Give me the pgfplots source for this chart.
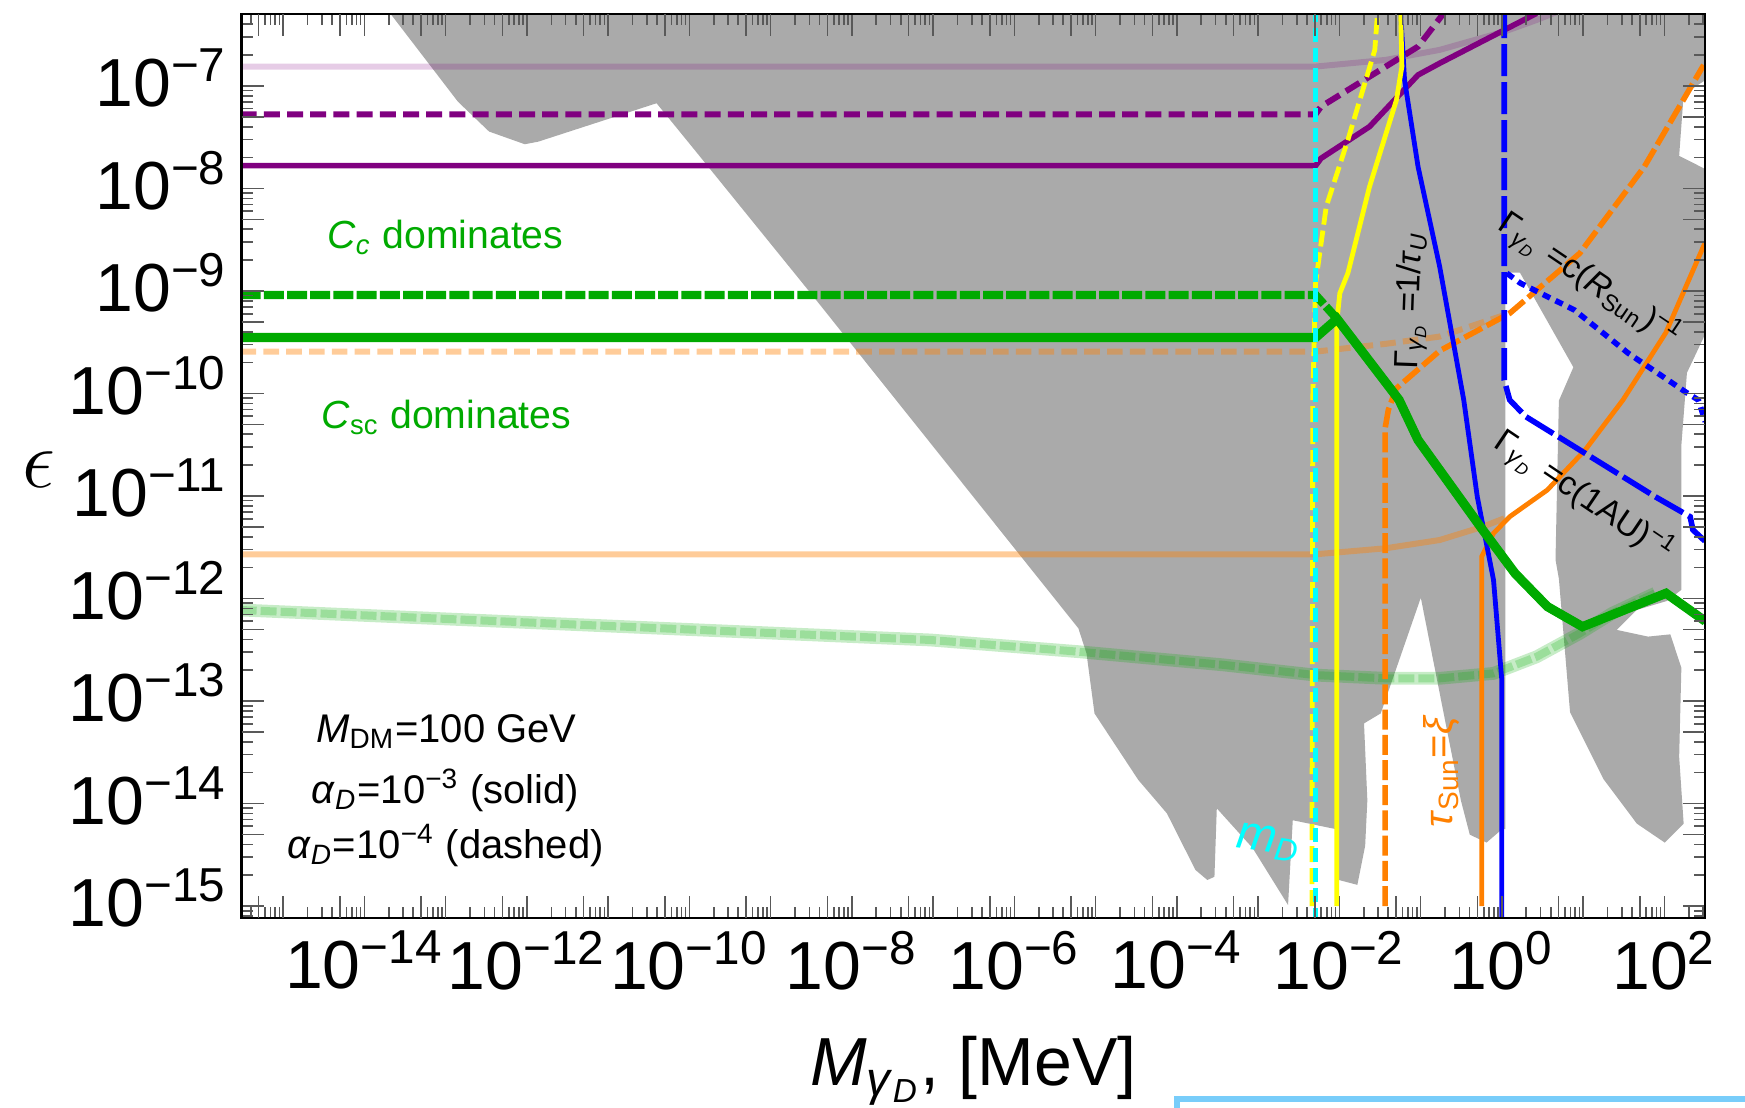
\documentclass[border=0pt]{standalone}
\usepackage{fontspec}
\setmainfont{Liberation Sans}
\usepackage{pgfplots}
\pgfplotsset{compat=1.18}
\definecolor{mpurple}{rgb}{0.5,0,0.5}
\definecolor{mgreen}{rgb}{0,0.667,0}
\definecolor{morange}{rgb}{1,0.5,0}
\definecolor{mgray}{RGB}{170,170,170}
\definecolor{mcyan}{RGB}{0,255,255}
\definecolor{myellow}{RGB}{255,255,0}
\definecolor{mblue}{RGB}{0,0,255}
\definecolor{lblue}{RGB}{120,205,250}
\gdef\minorx{}
\foreach \e in {-16,...,2}{\foreach \m in {2,3,4,6,7,8,9}{\xdef\minorx{\minorx\m e\e,}}}
\gdef\minory{}
\foreach \e in {-16,...,-7}{\foreach \m in {2,3,4,6,7,8,9}{\xdef\minory{\minory\m e\e,}}}
\newcommand{\tl}{\fontsize{17}{20}\selectfont}
\begin{document}
\begin{tikzpicture}
\useasboundingbox (-60.425pt,-47.25pt) rectangle (375.825pt,229.5pt);
\begin{axis}[
 scale only axis, width=365.8pt, height=226pt,
 xmode=log, ymode=log,
 xmin=3.09e-16, xmax=316, ymin=7.64e-16, ymax=5.03e-7,
 axis on top,
 axis line style={line width=0.7pt},
 tick align=inside,
 major tick length=5.6pt, minor tick length=2.8pt,
 tick style={black!65, line width=0.4pt},
 xtick={1e-14,1e-12,1e-10,1e-8,1e-6,1e-4,1e-2,1,100},
 xticklabels={10\textsuperscript{−14},10\textsuperscript{−12},10\textsuperscript{−10},10\textsuperscript{−8},10\textsuperscript{−6},10\textsuperscript{−4},10\textsuperscript{−2},10\textsuperscript{0},10\textsuperscript{2}},
 extra x ticks={1e-15,1e-13,1e-11,1e-9,1e-7,1e-5,1e-3,1e-1,10,5e-16,5e-15,5e-14,5e-13,5e-12,5e-11,5e-10,5e-9,5e-8,5e-7,5e-6,5e-5,5e-4,5e-3,5e-2,5e-1,5,50},
 extra x tick labels={},
 minor xtick/.expanded={\minorx 1e5},
 ytick={1e-15,1e-14,1e-13,1e-12,1e-11,1e-10,1e-9,1e-8,1e-7},
 yticklabels={10\textsuperscript{−15},10\textsuperscript{−14},10\textsuperscript{−13},10\textsuperscript{−12},10\textsuperscript{−11},10\textsuperscript{−10},10\textsuperscript{−9},10\textsuperscript{−8},10\textsuperscript{−7}},
 extra y ticks={5e-15,5e-14,5e-13,5e-12,5e-11,5e-10,5e-9,5e-8},
 extra y tick labels={},
 minor ytick/.expanded={\minory 1e-3},
 xticklabel style={font=\tl, inner sep=0pt, yshift=-3pt},
 yticklabel style={font=\tl, inner sep=0pt, xshift=-3.4pt, yshift=2pt},
 xlabel={\textit{M}\textsubscript{\textit{γ}\textsubscript{\textit{D}}}, [MeV]},
 xlabel style={font=\tl, at={(axis description cs:0.5,-0.1847)}, anchor=base},
 ylabel={$\epsilon$},
 ylabel style={font=\fontsize{22}{24}\selectfont, rotate=-90, at={(axis description cs:-0.1385,0.4956)}, anchor=center},
]
% excluded region
\addplot[fill=mgray, draw=none] coordinates {
(2.11e-14,5.03e-7) (1.416e-13,7.03e-8) (3.43e-13,3.59e-8) (9.44e-13,2.70e-8) (1.379e-12,2.86e-8)
(3.95e-11,6.78e-8) (1.161e-10,2.375e-8) (3.126e-9,9.48e-10) (6.14e-6,5.12e-13) (7.73e-6,2.92e-13)
(9.70e-6,7.57e-14) (3.365e-5,1.694e-14) (7.55e-5,8.02e-15) (1.694e-4,2.25e-15) (2.375e-4,1.795e-15)
(2.904e-4,1.93e-15) (3.105e-4,8.97e-15) (8.57e-4,3.68e-15) (2.339e-3,1.023e-15) (2.673e-3,6.87e-15)
(9.14e-3,5.62e-15) (9.14e-3,1.824e-15) (1.667e-2,1.61e-15) (2.08e-2,3.86e-15) (2.213e-2,1.076e-14)
(2.014e-2,6.05e-14) (3.233e-2,7.57e-14) (0.1007,1.019e-12) (0.3133,1.076e-14) (0.4036,4.97e-15)
(0.6486,4.16e-15) (1.008,5.62e-15) (1.109,5.62e-15) (1.109,1.51e-9) (1.671,1.51e-9)
(7.60,1.803e-10) (5.04,8.51e-11) (4.58,2.39e-12) (5.04,1.56e-12) (6.92,7.76e-14)
(17.82,1.734e-14) (45.9,6.37e-15) (101.2,4.16e-15) (173,6.37e-15) (152.4,2.86e-14)
(162.2,2.11e-13) (118.6,4.47e-13) (63.0,4.25e-13) (26.0,4.94e-13) (45.9,7.74e-13)
(107.6,9.46e-13) (162.2,1.215e-12) (162.2,3.13e-11) (190,1.592e-10) (320,3.82e-10)
(320,1.545e-8) (152.4,2.08e-8) (173,8.25e-8) (320,1.14e-7) (320,5.03e-7)
} -- cycle;
% faded curves
\addplot[mgreen, opacity=0.22, line width=3.2pt] coordinates {
(3e-16,7.73e-13) (9.29e-8,3.94e-13) (6.14e-6,3.03e-13) (3.80e-4,2.25e-13) (5.10e-3,1.79e-13)
(3.72e-2,1.665e-13) (0.1718,1.665e-13) (0.791,1.86e-13) (2.68,2.70e-13) (9.1,4.57e-13)
(22.8,7.16e-13) (77.3,1.125e-12)};
\addplot[mgreen, opacity=0.22, line width=2pt, dash pattern=on 4pt off 1pt] coordinates {
(3e-16,7.73e-13) (9.29e-8,3.94e-13) (6.14e-6,3.03e-13) (3.80e-4,2.25e-13) (5.10e-3,1.79e-13)
(3.72e-2,1.665e-13) (0.1718,1.665e-13) (0.791,1.86e-13) (2.68,2.70e-13) (9.1,4.57e-13)
(22.8,7.16e-13) (77.3,1.125e-12)};
\addplot[morange, opacity=0.4, line width=1.5pt] coordinates {
(3e-16,2.70e-12) (5.1e-3,2.70e-12) (3.72e-2,3.09e-12) (0.1718,3.72e-12) (0.582,5.01e-12) (1.072,6.05e-12)};
\addplot[morange, opacity=0.4, line width=1.5pt, dash pattern=on 3.9pt off 1.8pt] coordinates {
(3e-16,2.56e-10) (5.1e-3,2.56e-10) (3.72e-2,3.05e-10) (0.1718,3.59e-10) (1.25,6.05e-10)};
\addplot[mpurple, opacity=0.2, line width=1.5pt] coordinates {
(3e-16,1.545e-7) (5.1e-3,1.545e-7) (3.72e-2,1.795e-7) (0.1718,2.248e-7) (1.072,3.39e-7) (2.68,4.40e-7) (5.04,5.37e-7)};
% purple
\addplot[mpurple, line width=1.5pt, dash pattern=on 4pt off 1.8pt] coordinates {
(3e-16,5.29e-8) (5.1e-3,5.29e-8) (5.96e-3,6.29e-8) (2.355e-2,1.233e-7) (9.31e-2,2.42e-7) (0.1995,5.31e-7)};
\addplot[mpurple, line width=1.4pt] coordinates {
(3e-16,1.668e-8) (5.1e-3,1.668e-8) (5.96e-3,1.968e-8) (2.355e-2,4.01e-8) (9.31e-2,1.28e-7) (0.1718,1.664e-7) (2.68,5.11e-7)};
% orange
\addplot[morange, line width=1.2pt] coordinates {
(0.566,1e-15) (0.566,2.57e-12) (0.791,4.33e-12) (1.25,6.28e-12) (3.64,1.146e-11) (10.6,2.81e-11)
(31.0,8.65e-11) (104.5,3.92e-10) (320,3.0e-9)};
\addplot[morange, line width=1.4pt, dash pattern=on 5pt off 1.3pt] coordinates {
(3.66e-2,1e-15) (3.66e-2,4.56e-11) (4.01e-2,6.9e-11) (5.02e-2,1.12e-10) (0.172,2.61e-10) (1.25,6.05e-10)
(9.1,2.33e-9) (56.9,1.633e-8) (305,1.6e-7)};
% blue
\addplot[mblue, line width=1.2pt] coordinates {
(1.0,7e-16) (1.0,1.60e-13) (0.791,1.514e-12) (0.499,9.84e-12) (0.340,8.65e-11) (0.1718,1.73e-9)
(9.31e-2,1.633e-8) (6.35e-2,1.144e-7) (5.70e-2,5.11e-7)};
\addplot[mblue, line width=1.4pt, dash pattern=on 8pt off 1.5pt] coordinates {
(1.072,6e-7) (1.072,1.352e-10) (1.25,8.65e-11) (1.977,5.94e-11) (7.82,3.03e-11) (77.3,9.84e-12)
(208,6.28e-12) (225,4.67e-12) (320,3.6e-12)};
\addplot[mblue, line width=1.4pt, dash pattern=on 2pt off 1.5pt] coordinates {
(1.153,1.49e-9) (1.698,1.19e-9) (7.82,6.52e-10) (36.0,2.47e-10) (193,1.005e-10) (262,8.65e-11) (320,5.3e-11)};
% yellow
\addplot[myellow, line width=1.2pt] coordinates {
(9.29e-3,1e-15) (9.29e-3,4.91e-10) (1.014e-2,9.48e-10) (1.274e-2,1.49e-9) (2.355e-2,1.042e-8)
(5.05e-2,7.3e-8) (5.89e-2,1.545e-7) (5.70e-2,5.11e-7)};
\addplot[myellow, line width=1.2pt, dash pattern=on 4pt off 1.5pt] coordinates {
(4.6e-3,1e-15) (4.71e-3,8.7e-11) (5.10e-3,1.19e-9) (6.90e-3,6.65e-9) (1.274e-2,2.97e-8) (2.735e-2,2.248e-7) (2.95e-2,5.11e-7)};
% green
\addplot[mgreen, line width=2.1pt, dash pattern=on 5pt off 0.8pt] coordinates {
(3e-16,9.14e-10) (5.1e-3,9.14e-10) (9.38e-3,5.35e-10) (5.44e-2,8.65e-11) (9.31e-2,3.52e-11)
(0.582,4.67e-12) (1.455,1.758e-12) (3.64,8.34e-13) (9.84,5.31e-13) (105,1.125e-12) (320,6.0e-13)};
\addplot[mgreen, line width=2.3pt] coordinates {
(3e-16,3.51e-10) (5.1e-3,3.51e-10) (9.38e-3,5.35e-10) (5.44e-2,8.65e-11) (9.31e-2,3.52e-11)
(0.582,4.67e-12) (1.455,1.758e-12) (3.64,8.34e-13) (9.84,5.31e-13) (105,1.125e-12) (320,6.0e-13)};
% cyan
\addplot[mcyan, line width=1.2pt, dash pattern=on 3.5pt off 1.5pt] coordinates {(5.1e-3,7e-16) (5.1e-3,6e-7)};
% texts
\node[mgreen, font=\fontsize{9.8}{11}\selectfont] at (rel axis cs:0.1392,0.7528) {\textit{C}\textsubscript{\textit{c}} dominates};
\node[mgreen, font=\fontsize{9.8}{11}\selectfont] at (rel axis cs:0.1399,0.5535) {\textit{C}\textsubscript{sc} dominates};
\node[font=\fontsize{10}{11}\selectfont] at (rel axis cs:0.1399,0.2066) {\textit{M}\textsubscript{DM}=100 GeV};
\node[font=\fontsize{10}{11}\selectfont] at (rel axis cs:0.1392,0.1415) {\textit{α}\textsubscript{\textit{D}}=10\textsuperscript{−3} (solid)};
\node[font=\fontsize{10}{11}\selectfont] at (rel axis cs:0.1392,0.0800) {\textit{α}\textsubscript{\textit{D}}=10\textsuperscript{−4} (dashed)};
\node[mcyan, rotate=-8, font=\fontsize{12}{14}\selectfont] at (rel axis cs:0.7019,0.0836) {\textit{m}\textsubscript{\textit{D}}};
\node[rotate=88, font=\fontsize{8.4}{10}\selectfont] at (rel axis cs:0.7997,0.6832) {Γ\textsubscript{\textit{γ}\textsubscript{\textit{D}}} =1/\textit{τ}\textsubscript{\textit{U}}};
\node[rotate=-34, font=\fontsize{8.4}{10}\selectfont] at (rel axis cs:0.9212,0.7053) {Γ\textsubscript{\textit{γ}\textsubscript{\textit{D}}} =c(\textit{R}\textsubscript{Sun})\textsuperscript{−1}};
\node[rotate=-34, font=\fontsize{8.4}{10}\selectfont] at (rel axis cs:0.9176,0.4658) {Γ\textsubscript{\textit{γ}\textsubscript{\textit{D}}} =c(1AU)\textsuperscript{−1}};
\node[morange, rotate=90, font=\fontsize{10}{12}\selectfont] at (rel axis cs:0.8198,0.1624) {\textit{τ}\textsubscript{Sun}=\textit{ξ}};
\end{axis}
\draw[lblue, line width=1.5pt] (375.9pt,-45.25pt) -- (233.8pt,-45.25pt) -- (233.8pt,-48pt);
\end{tikzpicture}
\end{document}
